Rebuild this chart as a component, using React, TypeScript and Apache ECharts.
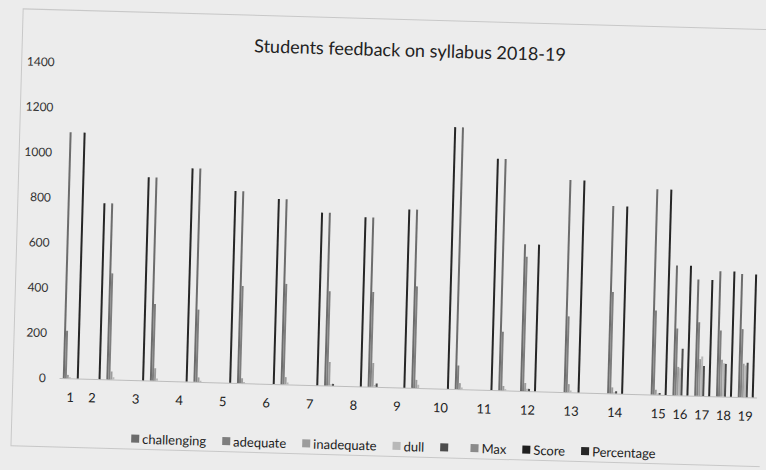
import React, { useEffect, useRef } from "react";
import * as echarts from "echarts";

const slotLabels = ["1", "2", "", "3", "", "4", "", "5", "", "6", "", "7", "", "8", "", "9", "", "10", "", "11", "", "12", "", "13", "", "14", "", "15", "16", "17", "18", "19"];

const seriesNames = ["challenging", "adequate", "inadequate", "dull", " ", "Max", "Score", "Percentage"];

const challenging = [1090, null, 780, null, 900, null, 945, null, 850, null, 820, null, 765, null, 750, null, 790, null, 1160, null, 1025, 650, null, 940, null, 830, null, 910, 575, 515, 555, 545];
const adequate = [210, null, 470, null, 340, null, 320, null, 430, null, 445, null, 418, null, 420, null, 450, null, 105, null, 260, 595, null, 336, null, 449, null, 373, 296, 326, 292, 301];
const inadequate = [15, null, 35, null, 55, null, 20, null, 22, null, 32, null, 104, null, 105, null, 36, null, 27, null, 20, 36, null, 36, null, 27, null, 22, 126, 163, 163, 148];
const dull = [5, null, 10, null, 10, null, 5, null, 5, null, 8, null, 6, null, 8, null, 15, null, 8, null, 6, 10, null, 8, null, 6, null, 5, 120, 175, 148, 140];
const blank = [null, null, null, null, null, null, null, null, null, null, null, null, 8, null, 15, null, null, null, null, null, null, 10, null, null, null, 10, null, 8, 207, 133, 145, 153];
const maxVals = [null, null, null, null, null, null, null, null, null, null, null, null, null, null, null, null, null, null, null, null, null, null, null, null, null, null, null, null, null, null, null, null];
const score = [null, null, null, null, null, null, null, null, null, null, null, null, null, null, null, null, null, null, null, null, null, null, null, null, null, null, null, null, null, null, null, null];
const percentage = [1090, 780, null, 900, null, 945, null, 850, null, 820, null, 765, null, 750, null, 790, null, 1160, null, 1025, null, 650, null, 940, null, 830, null, 910, 575, 515, 555, 545];

const yTicks = { min: 0, max: 1400, interval: 200 };

const seriesData = [challenging, adequate, inadequate, dull, blank, maxVals, score, percentage];
const seriesColors = ["#6c6c6c", "#7e7e7e", "#9c9c9c", "#b8b8b8", "#4c4c4c", "#8a8a8a", "#1f1f1f", "#262626"];

const FONT = "Lato, 'Open Sans', sans-serif";

export default function App() {
  const ref = useRef<HTMLDivElement>(null);
  useEffect(() => {
    if (!ref.current) return;
    const chart = echarts.init(ref.current, null, { renderer: "svg" });
    chart.setOption({
      animation: false,
      backgroundColor: "transparent",
      textStyle: { fontFamily: FONT },
      title: {
        text: "Students feedback on syllabus 2018-19",
        left: 244,
        top: 35,
        textStyle: { fontFamily: FONT, fontSize: 18, fontWeight: "normal", color: "#222" },
      },
      legend: {
        data: seriesNames,
        left: 132,
        top: 434,
        itemWidth: 8,
        itemHeight: 8,
        itemGap: 16,
        icon: "rect",
        textStyle: { fontFamily: FONT, fontSize: 13, color: "#222", padding: [0, 0, 0, -2] },
      },
      graphic: [
        {
          type: "rect",
          z: -1,
          silent: true,
          shape: { x: 17, y: 19, width: 800, height: 437 },
          style: { fill: "none", stroke: "#c8c8c8", lineWidth: 1 },
        },
      ],
      grid: { left: 64, right: 5, top: 71, bottom: 83, containLabel: false },
      xAxis: {
        type: "category",
        data: slotLabels,
        axisTick: { show: false },
        axisLine: { show: true, lineStyle: { color: "#bdbdbd", width: 1 } },
        axisLabel: { interval: 0, margin: 12, fontFamily: FONT, fontSize: 13, color: "#222" },
      },
      yAxis: {
        type: "value",
        min: yTicks.min,
        max: yTicks.max,
        interval: yTicks.interval,
        axisLine: { show: false },
        axisTick: { show: false },
        splitLine: { show: false },
        axisLabel: {
          margin: 14,
          fontFamily: FONT,
          fontSize: 12,
          color: "#333",
          formatter: (v: number) => String(v),
        },
      },
      series: seriesNames.map((name, i) => ({
        name,
        type: "bar",
        data: seriesData[i],
        barWidth: 2,
        barGap: "0%",
        itemStyle: { color: seriesColors[i] },
      })),
    });
    return () => chart.dispose();
  }, []);
  return (
    <div style={{ position: "fixed", left: 0, top: 0, width: 766, height: 470, background: "#ececec", overflow: "hidden" }}>
      <div
        ref={ref}
        style={{ width: 766, height: 470, transform: "rotate(1.6deg)", transformOrigin: "383px 235px" }}
      />
    </div>
  );
}
